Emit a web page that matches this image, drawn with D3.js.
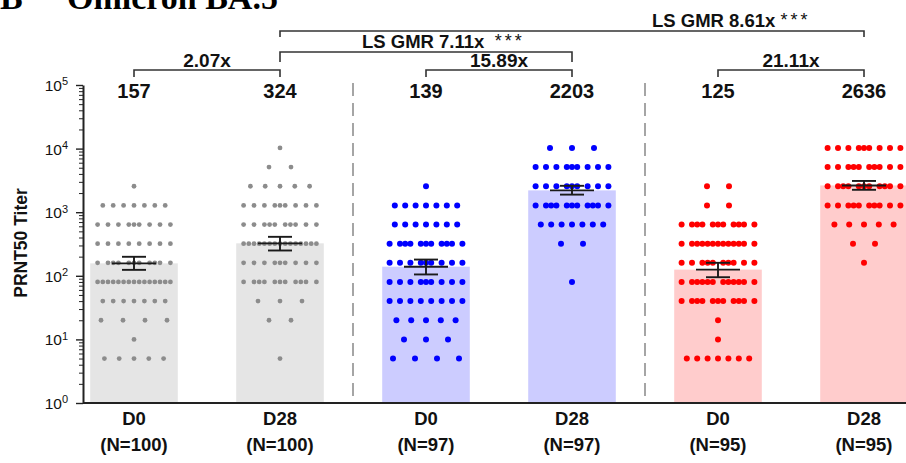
<!DOCTYPE html>
<html>
<head>
<meta charset="utf-8">
<script src="https://cdn.jsdelivr.net/npm/d3@7"></script>
<style>
  body { margin: 0; background: #fff; }
  svg { display: block; font-family: "Liberation Sans", Arial, sans-serif; }
</style>
</head>
<body>
<svg id="chart" width="906" height="463"></svg>
<script>
// data
const categories = ["D0", "D28", "D0", "D28", "D0", "D28"];
const nLabels = ["(N=100)", "(N=100)", "(N=97)", "(N=97)", "(N=95)", "(N=95)"];
const gmt = [157, 324, 139, 2203, 125, 2636];
const ciLow = [124, 250, 105, 1890, 95, 2250];
const ciHigh = [199, 410, 180, 2600, 160, 3100];

// titer levels (two-fold dilutions) and visible dots per level, per column
const titerLevels = [5, 10, 20, 40, 80, 160, 320, 640, 1280, 2560, 5120, 10240];
const dotsGreyD0  = [5, 1, 4, 7, 15, 11, 8, 9, 7, 1, 0, 0];
const dotsGreyD28 = [1, 0, 2, 3, 11, 9, 15, 10, 9, 5, 2, 1];
const dotsBlueD0  = [4, 3, 5, 8, 9, 9, 11, 7, 7, 1, 0, 0];
const dotsBlueD28 = [0, 0, 0, 0, 1, 0, 2, 7, 11, 9, 9, 3];
const dotsRedD0   = [7, 1, 1, 11, 12, 10, 13, 11, 2, 2, 0, 0];
const dotsRedD28  = [0, 0, 0, 0, 0, 1, 2, 5, 10, 11, 10, 9];
const dotCounts = [dotsGreyD0, dotsGreyD28, dotsBlueD0, dotsBlueD28, dotsRedD0, dotsRedD28];

// comparison brackets
const bracketFrom = [0, 2, 4, 1, 1];
const bracketTo = [1, 3, 5, 3, 5];
const bracketText = ["2.07x", "15.89x", "21.11x", "LS GMR 7.11x", "LS GMR 8.61x"];
const bracketStars = ["", "", "", "***", "***"];

const yTicks = [1, 10, 100, 1000, 10000, 100000];
const yExponents = ["0", "1", "2", "3", "4", "5"];

// styling
const barFill = ["#e5e5e5", "#e5e5e5", "#ccccff", "#ccccff", "#ffcccc", "#ffcccc"];
const dotFill = ["#8c8c8c", "#8c8c8c", "#0000ff", "#0000ff", "#ff0000", "#ff0000"];
const dotR = [2.4, 2.4, 3, 3, 3, 3];

const svg = d3.select("#chart");
const width = +svg.attr("width");

const x = d3.scaleBand()
    .domain(d3.range(categories.length))
    .range([61, 937])
    .paddingInner(0.4)
    .paddingOuter(0.2);
const cx = i => x(i) + x.bandwidth() / 2;

const y = d3.scaleLog().domain([1, 1e5]).range([403, 85]);
const axisX = 83;

// horizontal offsets of the dots in one row (prism-like scatter layout)
function rowOffsets(n) {
    if (n <= 8) {
        const gap = n <= 4 ? 22 : n === 5 ? 14.8 : n === 6 ? 12.4 : 10.4;
        return d3.range(n).map(i => (i - (n - 1) / 2) * gap);
    }
    const out = [-36.4, -26, -15.6, -5.2, 5.2, 15.6, 26, 36.4];
    let extra = Math.min(n - 8, 7);
    if (extra % 2 === 1) {
        out.push(0);
        extra -= 1;
        [20.8, 10.4, 31.2].slice(0, extra / 2).forEach(v => out.push(-v, v));
    } else {
        [10.4, 20.8, 31.2].slice(0, extra / 2).forEach(v => out.push(-v, v));
    }
    return out;
}

const dots = [];
dotCounts.forEach((counts, g) => {
    counts.forEach((n, k) => {
        rowOffsets(n).forEach(off => dots.push({ g: g, v: titerLevels[k], off: off }));
    });
});

// title (cut off at the top in the original)
svg.append("text")
    .attr("x", 0).attr("y", 9)
    .style("font-family", "'Liberation Serif', 'Times New Roman', serif")
    .style("font-weight", "bold").style("font-size", "34px")
    .text("B");
svg.append("text")
    .attr("x", 67).attr("y", 9)
    .style("font-family", "'Liberation Serif', 'Times New Roman', serif")
    .style("font-weight", "bold").style("font-size", "34px")
    .text("Omicron BA.5");

// bars
svg.selectAll("rect.bar")
    .data(gmt)
    .join("rect")
    .attr("class", "bar")
    .attr("x", (d, i) => x(i))
    .attr("y", d => y(d))
    .attr("width", x.bandwidth())
    .attr("height", d => y(1) - y(d))
    .attr("fill", (d, i) => barFill[i]);

// group dividers
[[1, 2], [3, 4]].forEach(p => {
    const xm = (cx(p[0]) + cx(p[1])) / 2;
    svg.append("line")
        .attr("x1", xm).attr("x2", xm)
        .attr("y1", 83).attr("y2", y(1))
        .attr("stroke", "#8f8f8f")
        .attr("stroke-width", 1.6)
        .attr("stroke-dasharray", "13,7");
});

// dots
svg.selectAll("circle.dot")
    .data(dots)
    .join("circle")
    .attr("class", "dot")
    .attr("cx", d => cx(d.g) + d.off)
    .attr("cy", d => y(d.v))
    .attr("r", d => dotR[d.g])
    .attr("fill", d => dotFill[d.g]);

// error bars: mean line, CI whisker and caps
const eb = svg.append("g").attr("stroke", "#1a1a1a").attr("stroke-width", 1.9);
gmt.forEach((m, i) => {
    const c = cx(i);
    eb.append("line").attr("x1", c - 22).attr("x2", c + 22).attr("y1", y(m)).attr("y2", y(m));
    eb.append("line").attr("x1", c).attr("x2", c).attr("y1", y(ciLow[i])).attr("y2", y(ciHigh[i]));
    eb.append("line").attr("x1", c - 12).attr("x2", c + 12).attr("y1", y(ciLow[i])).attr("y2", y(ciLow[i]));
    eb.append("line").attr("x1", c - 12).attr("x2", c + 12).attr("y1", y(ciHigh[i])).attr("y2", y(ciHigh[i]));
});

// y axis with major and minor ticks
const minorTicks = [];
yTicks.slice(0, -1).forEach(t => d3.range(2, 10).forEach(m => minorTicks.push(t * m)));

svg.append("g")
    .attr("transform", `translate(${axisX},0)`)
    .call(d3.axisLeft(y).tickValues(minorTicks).tickSize(4).tickSizeOuter(0).tickFormat(""))
    .call(g => g.select(".domain").remove())
    .selectAll("line").attr("stroke", "#222").attr("stroke-width", 1);

const yAxis = svg.append("g")
    .attr("transform", `translate(${axisX},0)`)
    .call(d3.axisLeft(y).tickValues(yTicks).tickSize(7).tickSizeOuter(0).tickFormat(""));
yAxis.select(".domain").attr("stroke", "#222").attr("stroke-width", 2);
yAxis.selectAll(".tick line").attr("stroke", "#222").attr("stroke-width", 1.4);
yAxis.selectAll(".tick").each(function (d, i) {
    const t = d3.select(this).append("text")
        .attr("x", -15).attr("dy", "0.35em")
        .attr("fill", "#111")
        .attr("text-anchor", "end")
        .style("font-size", "15.5px");
    t.append("tspan").text("10");
    t.append("tspan").attr("dy", "-0.5em").style("font-size", "11px").text(yExponents[i]);
});

svg.append("text")
    .attr("transform", `translate(27,243) rotate(-90)`)
    .attr("text-anchor", "middle")
    .style("font-size", "17.5px").style("font-weight", "bold")
    .attr("fill", "#111")
    .text("PRNT50 Titer");

// x axis baseline
svg.append("line")
    .attr("x1", axisX).attr("x2", width)
    .attr("y1", y(1)).attr("y2", y(1))
    .attr("stroke", "#222").attr("stroke-width", 2);

// category labels
svg.selectAll("text.cat")
    .data(categories)
    .join("text")
    .attr("class", "cat")
    .attr("x", (d, i) => cx(i)).attr("y", 425)
    .attr("text-anchor", "middle")
    .style("font-size", "18.5px").style("font-weight", "bold")
    .attr("fill", "#111")
    .text(d => d);
svg.selectAll("text.nlab")
    .data(nLabels)
    .join("text")
    .attr("class", "nlab")
    .attr("x", (d, i) => cx(i)).attr("y", 451)
    .attr("text-anchor", "middle")
    .style("font-size", "18.5px").style("font-weight", "bold")
    .attr("fill", "#111")
    .text(d => d);

// GMT values on top
svg.selectAll("text.gmt")
    .data(gmt)
    .join("text")
    .attr("class", "gmt")
    .attr("x", (d, i) => cx(i)).attr("y", 98)
    .attr("text-anchor", "middle")
    .style("font-size", "20px").style("font-weight", "bold")
    .attr("fill", "#111")
    .text(d => d);

// brackets
const levelY = [70, 70, 70, 52, 31];
const dropY = [7, 7, 7, 10, 6];
const labelShift = [null, null, null, -64, 80];
const br = svg.append("g").attr("fill", "none").attr("stroke", "#333").attr("stroke-width", 1.6);
bracketText.forEach((txt, i) => {
    const x1 = cx(bracketFrom[i]), x2 = cx(bracketTo[i]), yl = levelY[i];
    br.append("path").attr("d", `M${x1},${yl + dropY[i]}V${yl}H${x2}V${yl + dropY[i]}`);
    const mid = (x1 + x2) / 2;
    const t = svg.append("text")
        .attr("fill", "#111")
        .style("font-weight", "bold");
    if (labelShift[i] === null) {
        t.attr("x", mid).attr("y", yl - 3).attr("text-anchor", "middle")
            .style("font-size", "19px").text(txt);
    } else {
        t.attr("x", mid + labelShift[i]).attr("y", yl - 4).attr("text-anchor", "start")
            .style("font-size", "18.5px");
        t.append("tspan").text(txt + (i === 3 ? "\u00a0\u00a0" : "\u00a0"));
        t.append("tspan").style("font-weight", "normal").style("font-size", "18px")
            .style("letter-spacing", "3px")
            .attr("dy", "-1").text(bracketStars[i]);
    }
});
</script>
</body>
</html>
